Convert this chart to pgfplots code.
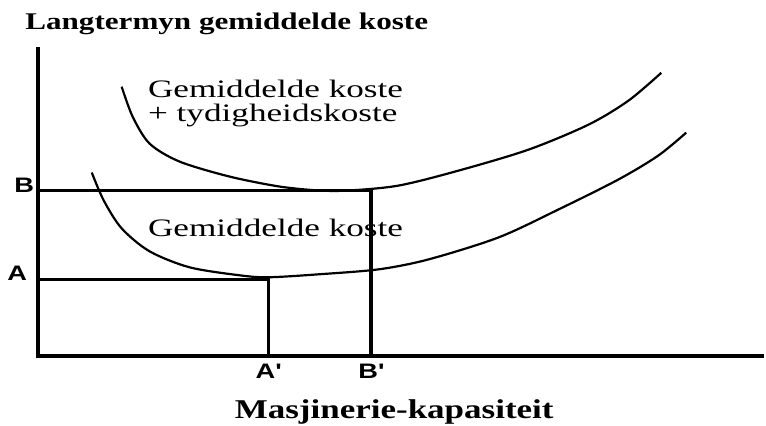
\documentclass[border=0pt]{standalone}
\usepackage{fontspec}
\setmainfont{Liberation Serif}
\newfontfamily\sansb{Liberation Sans}
\usepackage{pgfplots}
\pgfplotsset{compat=1.18}
\begin{document}
\begin{tikzpicture}
\begin{axis}[
  scale only axis, width=383pt, height=213.5pt,
  xmin=0, xmax=766, ymin=0, ymax=427,
  hide axis, clip=false,
]
\path (rel axis cs:0,0) rectangle (rel axis cs:1,1);
% axes
\addplot[black, line width=2pt] coordinates {(38,380) (38,70) (766,70)};
% B and A guide lines
\addplot[black, line width=1.6pt] coordinates {(38,236) (372,236) (372,70)};
\addplot[black, line width=1.6pt] coordinates {(38,147) (269,147) (269,70)};
% upper curve
\addplot[black, line width=1.1pt, smooth] coordinates {
(122,340) (133,310) (150,283) (180,265) (230,250) (280,240) (320,236)
(350,236) (400,241) (460,256) (530,277) (590,302) (630,326) (663,354)};
% lower curve
\addplot[black, line width=1.1pt, smooth] coordinates {
(92,254) (104,226) (122,198) (150,175) (190,159) (240,151) (269,149)
(320,152) (380,157) (430,167) (500,189) (560,217) (620,247) (660,271) (688,294)};
% texts
\node[anchor=base west, inner sep=0pt] at (axis cs:25,397)
  {\fontsize{12}{14}\selectfont\bfseries\scalebox{1.3}[1]{Langtermyn gemiddelde koste}};
\node[anchor=base west, inner sep=0pt] at (axis cs:235,7)
  {\fontsize{13.6}{16}\selectfont\bfseries\scalebox{1.29}[1]{Masjinerie-kapasiteit}};
\node[anchor=base west, inner sep=0pt] at (axis cs:148,329)
  {\fontsize{12.6}{14}\selectfont\scalebox{1.4}[1]{Gemiddelde koste}};
\node[anchor=base west, inner sep=0pt] at (axis cs:148,305)
  {\fontsize{12.6}{14}\selectfont\scalebox{1.4}[1]{+ tydigheidskoste}};
\node[anchor=base west, inner sep=0pt] at (axis cs:148,190)
  {\fontsize{12.6}{14}\selectfont\scalebox{1.4}[1]{Gemiddelde koste}};
\node[anchor=base west, inner sep=0pt] at (axis cs:14,234)
  {\sansb\fontsize{10.5}{12}\selectfont\bfseries\scalebox{1.3}[1]{B}};
\node[anchor=base west, inner sep=0pt] at (axis cs:7,146)
  {\sansb\fontsize{10.5}{12}\selectfont\bfseries\scalebox{1.3}[1]{A}};
\node[anchor=base west, inner sep=0pt] at (axis cs:256,47)
  {\sansb\fontsize{10.5}{12}\selectfont\bfseries\scalebox{1.3}[1]{A'}};
\node[anchor=base west, inner sep=0pt] at (axis cs:359,47)
  {\sansb\fontsize{10.5}{12}\selectfont\bfseries\scalebox{1.3}[1]{B'}};
\end{axis}
\end{tikzpicture}
\end{document}
